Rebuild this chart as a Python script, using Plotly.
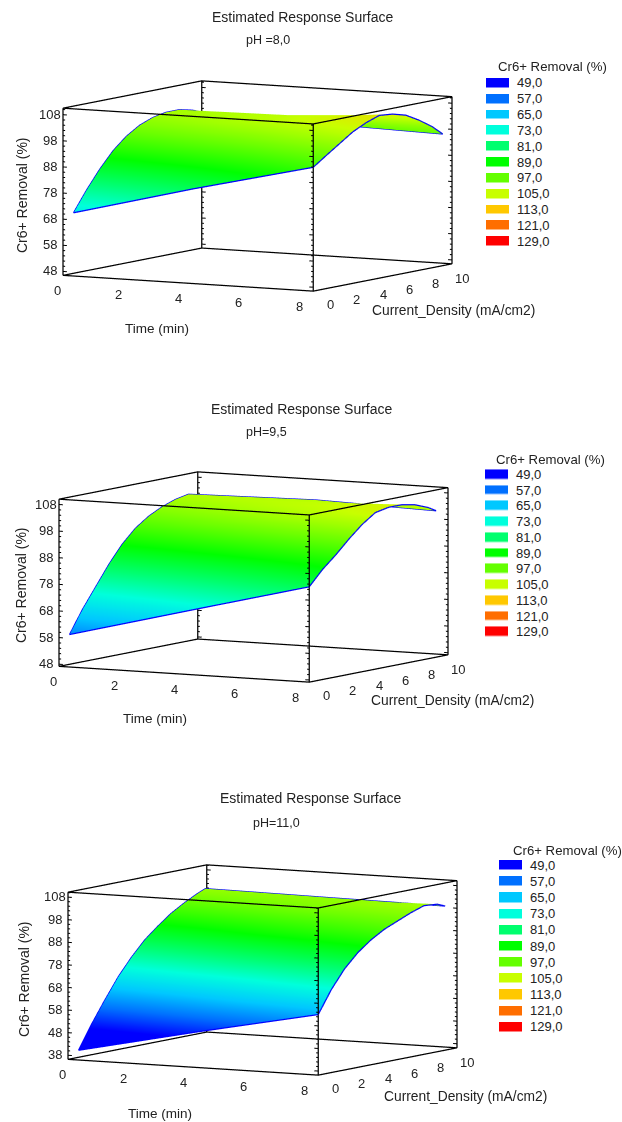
import plotly.graph_objects as go

# ---------- data ----------
time_grid = [0.35, 4.3, 8.3]
density_1 = [0, 1, 2, 3, 4, 5, 6, 7, 8, 9, 9.8]
density_2 = [0, 1, 2, 3, 4, 5, 6, 7, 8, 9, 9.6]
density_3 = [0, 1, 2, 3, 4, 5, 6, 7, 8, 9, 9.6]

removal_1_t0 = [70.7, 78.5, 85.5, 91.5, 96, 99.2, 101.2, 102.2, 102.2, 101, 99.5]
removal_1_t1 = [82.7, 88, 93, 97.5, 101, 103.3, 104, 104, 102.8, 100.5, 98]
removal_1_t2 = [93.9, 97.5, 101, 104.5, 107, 108.8, 108.3, 106.9, 104, 100.5, 96.9]

removal_2_t0 = [59.4, 68, 75.5, 83, 89.5, 94.5, 98, 100.5, 102.3, 103.3, 102.6]
removal_2_t1 = [71.2, 78, 84.5, 90.5, 96, 100.3, 102.5, 103.8, 104.2, 103.8, 103.4]
removal_2_t2 = [83, 88.5, 93, 98, 102.5, 106, 107, 107, 106, 104, 102.2]

removal_3_t0 = [40.5, 51, 60.5, 69.5, 77, 83.5, 88.5, 93, 96.5, 99.5, 101]
removal_3_t1 = [52, 62, 70, 78.5, 85, 90, 93.5, 97, 99.5, 100.5, 100.5]
removal_3_t2 = [63, 73, 81, 87, 91.5, 95, 97.5, 100, 102, 101.5, 100]

legend_values = [49, 57, 65, 73, 81, 89, 97, 105, 113, 121, 129]
legend_labels = ["49,0", "57,0", "65,0", "73,0", "81,0", "89,0", "97,0", "105,0", "113,0", "121,0", "129,0"]
legend_colors = ["#0000ff", "#0070ff", "#00c8ff", "#00ffdc", "#00ff6e", "#00ff00",
                 "#64ff00", "#c8ff00", "#ffc800", "#ff6e00", "#ff0000"]

x_ticks = [0, 2, 4, 6, 8]
y_ticks = [0, 2, 4, 6, 8, 10]
z_ticks_1 = [48, 58, 68, 78, 88, 98, 108]
z_ticks_3 = [38, 48, 58, 68, 78, 88, 98, 108]

x_range = [0, 8.3]
y_range = [0, 10.5]
z_range_1 = [46.5, 110.5]
z_range_2 = [47.2, 110]
z_range_3 = [36.2, 110.2]

W, H = 622, 1122
SUP = "Estimated Response Surface"
TEXT = "#222222"
FONT = "Liberation Sans"

colorscale = [[(v - 49) / 80, c] for v, c in zip(legend_values, legend_colors)]

panels = [
    dict(scene="scene", density=density_1, z=[removal_1_t0, removal_1_t1, removal_1_t2],
         zr=z_range_1, zt=z_ticks_1, cx=257.5, cy=185.5,
         title=(303, 17, SUP), ph=(268, 40, "pH =8,0"),
         xt=(157, 328), yt=(453, 311), zt_pos=(22, 195),
         leg=(486, 552, 67, 75, 249)),
    dict(scene="scene2", density=density_2, z=[removal_2_t0, removal_2_t1, removal_2_t2],
         zr=z_range_2, zt=z_ticks_1, cx=253.5, cy=576.5,
         title=(302, 409, SUP), ph=(266, 432, "pH=9,5"),
         xt=(155, 718), yt=(452, 700), zt_pos=(21, 585),
         leg=(485, 550, 459, 466.4, 639.6)),
    dict(scene="scene3", density=density_3, z=[removal_3_t0, removal_3_t1, removal_3_t2],
         zr=z_range_3, zt=z_ticks_3, cx=262.5, cy=969.5,
         title=(311, 798, SUP), ph=(276, 823, "pH=11,0"),
         xt=(160, 1113), yt=(465, 1096), zt_pos=(24, 979),
         leg=(499, 567, 850, 857, 1035)),
]

fig = go.Figure()
annotations = []
layout = {}
DOM_W_H = 270
EYE_K = 3.0
SCALE = 2.13
PAD = 0.006  # the axes run a hair past the drawn box so its edges are not clipped
eye = dict(x=0.4924 * EYE_K, y=-0.870 * EYE_K, z=0.112 * EYE_K)


def padded(r):
    d = (r[1] - r[0]) * PAD
    return [r[0] - d, r[1] + d]


def note(px, py, text, size=13.5, angle=0):
    annotations.append(dict(x=px / W, y=1 - py / H, xref="paper", yref="paper", text=text,
                            showarrow=False, textangle=angle, xanchor="center", yanchor="middle",
                            font=dict(family=FONT, size=size, color=TEXT)))


def tick_note(x, y, z, text, xs, ys):
    return dict(x=x, y=y, z=z, text=text, showarrow=False, xshift=xs, yshift=ys,
                xanchor="center", yanchor="middle",
                font=dict(family=FONT, size=13, color=TEXT))


for i, p in enumerate(panels):
    sc = p["scene"]
    ys = p["density"]
    zz = p["z"]
    fig.add_trace(go.Surface(x=time_grid, y=ys, z=[list(r) for r in zip(*zz)], scene=sc,
                             colorscale=colorscale, cmin=49, cmax=129, showscale=False,
                             lighting=dict(ambient=1, diffuse=0, specular=0, roughness=1, fresnel=0),
                             hoverinfo="skip"))
    # blue outline of the surface
    ox = [time_grid[0]] * len(ys) + [time_grid[1]] + [time_grid[2]] * len(ys) + [time_grid[1], time_grid[0]]
    oy = list(ys) + [ys[-1]] + list(reversed(ys)) + [ys[0], ys[0]]
    oz = list(zz[0]) + [zz[1][-1]] + list(reversed(zz[2])) + [zz[1][0], zz[0][0]]
    fig.add_trace(go.Scatter3d(x=ox, y=oy, z=oz, mode="lines", scene=sc, showlegend=False,
                               line=dict(color="#0000ff", width=2.5), hoverinfo="skip"))
    # black bounding box from the axis ranges
    x0, x1 = x_range
    y0, y1 = y_range
    z0, z1 = p["zr"]
    bx, by, bz = [], [], []
    for a, b in [((x0, y0), (x1, y0)), ((x1, y0), (x1, y1)), ((x1, y1), (x0, y1)), ((x0, y1), (x0, y0))]:
        for zv in (z0, z1):
            bx += [a[0], b[0], None]
            by += [a[1], b[1], None]
            bz += [zv, zv, None]
        bx += [a[0], a[0], None]
        by += [a[1], a[1], None]
        bz += [z0, z1, None]
    fig.add_trace(go.Scatter3d(x=bx, y=by, z=bz, mode="lines", scene=sc, showlegend=False,
                               line=dict(color="#000000", width=2.5), hoverinfo="skip"))
    # z tick marks on the four upright edges
    tx, ty_, tz = [], [], []
    for cx, cy, sign in [(x0, y0, 1), (x1, y0, -1), (x0, y1, 1), (x1, y1, -1)]:
        for t in p["zt"]:
            tx += [cx, cx + sign * 0.13, None]
            ty_ += [cy, cy, None]
            tz += [t, t, None]
            for m in (2, 4, 6, 8):
                if t + m < z1:
                    tx += [cx, cx + sign * 0.07, None]
                    ty_ += [cy, cy, None]
                    tz += [t + m, t + m, None]
    fig.add_trace(go.Scatter3d(x=tx, y=ty_, z=tz, mode="lines", scene=sc, showlegend=False,
                               line=dict(color="#000000", width=2), hoverinfo="skip"))

    axis_common = dict(showbackground=False, showgrid=False, zeroline=False, showspikes=False,
                       ticks="", title=dict(text=""), showticklabels=False, showline=False)
    half = DOM_W_H / 2
    scene_notes = ([tick_note(t, y0, z0, str(t), -5, -16) for t in x_ticks]
                   + [tick_note(x1, t, z0, str(t), 17, -14) for t in y_ticks]
                   + [tick_note(x0, y0, t, str(t), -13, 0) for t in p["zt"]])
    layout[sc] = dict(
        domain=dict(x=[0, 2 * p["cx"] / W], y=[1 - (p["cy"] + half) / H, 1 - (p["cy"] - half) / H]),
        xaxis=dict(range=padded(x_range), tickvals=x_ticks, **axis_common),
        yaxis=dict(range=padded(y_range), tickvals=y_ticks, **axis_common),
        zaxis=dict(range=padded(p["zr"]), tickvals=p["zt"], **axis_common),
        aspectmode="manual",
        aspectratio=dict(x=1.0 * SCALE * (1 + 2 * PAD), y=0.98 * SCALE * (1 + 2 * PAD), z=0.585 * SCALE * (1 + 2 * PAD)),
        camera=dict(eye=eye, up=dict(x=0, y=0, z=1), center=dict(x=0, y=0, z=0),
                    projection=dict(type="orthographic")),
        bgcolor="rgba(0,0,0,0)",
        annotations=scene_notes,
    )

    note(p["title"][0], p["title"][1], p["title"][2], size=14)
    note(p["ph"][0], p["ph"][1], p["ph"][2], size=12.5)
    note(p["xt"][0], p["xt"][1], "Time (min)")
    note(p["yt"][0], p["yt"][1], "Current_Density (mA/cm2)", size=13.8)
    note(p["zt_pos"][0], p["zt_pos"][1], "Cr6+ Removal (%)", size=14, angle=-90)

    # discrete legend as a one-column heatmap
    lx, tx_c, ty, top, bot = p["leg"]
    note(tx_c, ty, "Cr6+ Removal (%)", size=13.2)
    xa, ya = f"x{i + 1}", f"y{i + 1}"
    fig.add_trace(go.Heatmap(z=[[v] for v in legend_values], y=legend_labels, x=[0],
                             xaxis=xa, yaxis=ya, colorscale=colorscale, zmin=49, zmax=129,
                             showscale=False, ygap=6.5, hoverinfo="skip"))
    layout[f"xaxis{i + 1}"] = dict(domain=[lx / W, (lx + 23) / W], visible=False, anchor=ya)
    layout[f"yaxis{i + 1}"] = dict(domain=[1 - bot / H, 1 - top / H], side="right", anchor=xa,
                                   autorange="reversed", showline=False, showgrid=False, zeroline=False,
                                   ticks="", ticklabelstandoff=7, tickmode="array",
                                   tickvals=legend_labels, ticktext=legend_labels,
                                   tickfont=dict(family=FONT, size=13, color=TEXT), type="category")

fig.update_layout(width=W, height=H, margin=dict(l=0, r=0, t=0, b=0), paper_bgcolor="white",
                  plot_bgcolor="white", showlegend=False, annotations=annotations, **layout)
fig.write_html("out.html", config=dict(displayModeBar=False),
               post_script="document.documentElement.style.overflow='hidden';document.body.style.margin='0';")
